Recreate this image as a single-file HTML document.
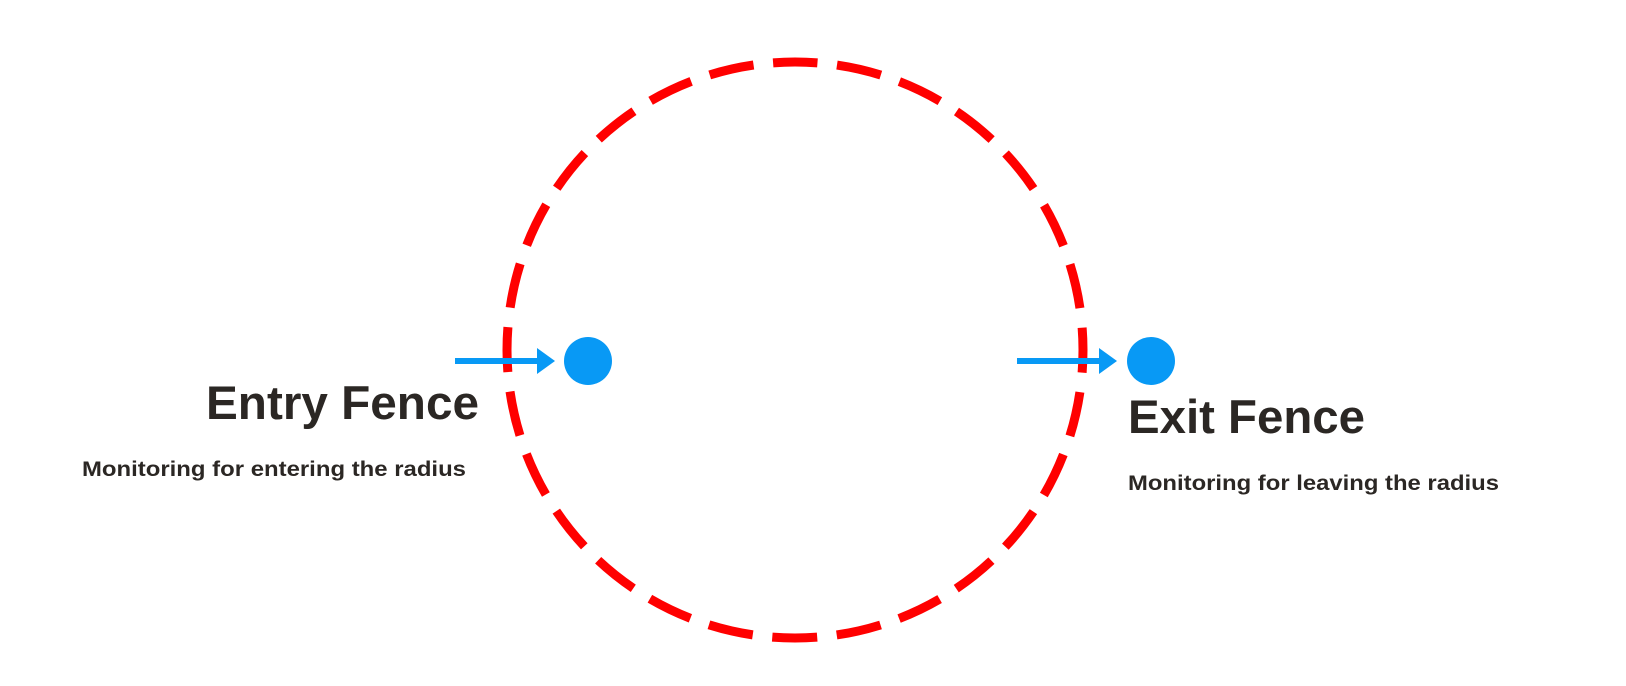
<!DOCTYPE html>
<html><head><style>html,body{margin:0;padding:0;background:#fff}svg{display:block}</style></head>
<body>
<svg width="1626" height="686" viewBox="0 0 1626 686" xmlns="http://www.w3.org/2000/svg">
<circle cx="795" cy="350" r="288" fill="none" stroke="#ff0000" stroke-width="9" stroke-dasharray="45 19.64" stroke-dashoffset="22.5" transform="rotate(-90 795 350)"/>
<line x1="455" y1="361" x2="540" y2="361" stroke="#0899f5" stroke-width="6"/>
<polygon points="537,348 555,361 537,374" fill="#0899f5"/>
<circle cx="588" cy="361" r="24" fill="#0899f5"/>
<line x1="1017" y1="361" x2="1102" y2="361" stroke="#0899f5" stroke-width="6"/>
<polygon points="1099,348 1117,361 1099,374" fill="#0899f5"/>
<circle cx="1151" cy="361" r="24" fill="#0899f5"/>
<g font-family="Liberation Sans, sans-serif" font-weight="bold" fill="#2b2724">
<text x="206" y="419" font-size="47" textLength="273" lengthAdjust="spacingAndGlyphs">Entry Fence</text>
<text x="82" y="476" font-size="21" textLength="384" lengthAdjust="spacingAndGlyphs">Monitoring for entering the radius</text>
<text x="1128" y="433" font-size="47" textLength="237" lengthAdjust="spacingAndGlyphs">Exit Fence</text>
<text x="1128" y="490" font-size="21" textLength="371" lengthAdjust="spacingAndGlyphs">Monitoring for leaving the radius</text>
</g>
</svg>
</body></html>
